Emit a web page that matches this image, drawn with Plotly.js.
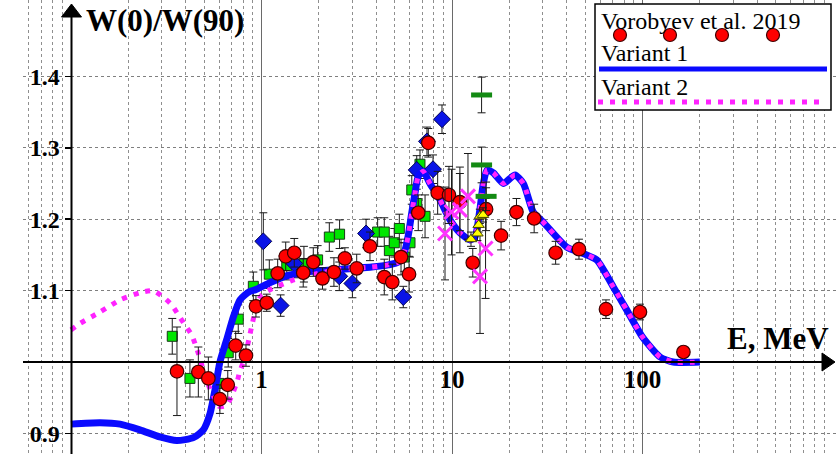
<!DOCTYPE html>
<html><head><meta charset="utf-8">
<script src="https://cdn.plot.ly/plotly-3.0.1.min.js"></script>
<style>html,body{margin:0;padding:0;background:#fff;}#chart{width:838px;height:454px;}</style>
</head><body><div id="chart"></div>
<script>
// ---- data ----
const redE   = [0.36,0.466,0.526,0.605,0.665,0.732,0.829,0.935,1.065,1.216,1.34,1.486,1.656,1.87,2.09,2.40,2.74,3.16,3.71,4.41,4.86,5.40,5.95,6.65,7.51,8.41,9.64,11.0,12.85,15.1,18.1,21.8,27.0,35.0,46.4,64.3,97,164];
const redW   = [0.987,0.986,0.977,0.948,0.968,1.023,1.009,1.078,1.083,1.124,1.148,1.153,1.125,1.14,1.117,1.126,1.145,1.131,1.162,1.119,1.112,1.147,1.123,1.209,1.307,1.237,1.234,1.224,1.139,1.214,1.177,1.21,1.201,1.153,1.158,1.074,1.070,1.014];
const redErr = [0.062,0.035,0.03,0.02,0.02,0.02,0.015,0.015,0.012,0.02,0.02,0.02,0.02,0.02,0.015,0.02,0.015,0.02,0.02,0.025,0.025,0.025,0.025,0.025,0.02,0.03,0.04,0.04,0.02,0.03,0.02,0.019,0.02,0.016,0.014,0.013,0.011,0.007];

const grnE   = [0.340,0.421,0.598,0.669,0.755,0.906,1.099,1.357,1.67,1.97,2.27,2.57,4.07,4.41,4.69,4.98,5.29,5.62,6.02,6.15,6.53,6.79,7.22];
const grnW   = [1.036,0.977,0.970,1.013,1.060,1.106,1.123,1.135,1.137,1.143,1.175,1.179,1.182,1.182,1.156,1.167,1.187,1.147,1.167,1.241,1.222,1.277,1.204];
const grnErr = [0.025,0.026,0.02,0.02,0.02,0.02,0.02,0.02,0.025,0.02,0.02,0.02,0.02,0.02,0.02,0.02,0.02,0.02,0.02,0.02,0.02,0.02,0.03];

const bluE   = [1.022,1.26,1.486,2.56,3.0,3.54,5.55,6.53,7.39,7.95,8.86];
const bluW   = [1.169,1.079,1.138,1.12,1.11,1.18,1.091,1.269,1.309,1.27,1.34];
const bluErr = [0.04,0.015,0.02,0.02,0.02,0.02,0.015,0.02,0.02,0.02,0.02];

const magE   = [9.19,9.94,11.0,12.13,14.03,15.0];
const magW   = [1.18,1.21,1.213,1.232,1.12,1.159];
const magErr = [0.065,0.06,0.06,0.06,0.08,0.07];

const yelE   = [12.58,13.6,13.8,14.0,14.55];
const yelW   = [1.172,1.18,1.192,1.204,1.206];
const yelErr = [0.01,0.01,0.01,0.01,0.01];

const dashE   = [14.3,14.3,15.1];
const dashW   = [1.374,1.276,1.232];
const dashErr = [0.025,0.025,0.02];

const var1E = [0.1,0.142,0.181,0.230,0.293,0.359,0.439,0.495,0.537,0.570,0.605,0.656,0.711,0.771,0.819,0.870,0.925,1.086,1.328,1.626,1.987,2.43,2.975,3.79,4.63,5.23,5.67,5.90,6.14,6.39,6.65,7.07,7.66,8.65,9.76,11.0,12.43,13.2,14.0,14.6,15.27,16.48,18.6,21.4,23.7,26.7,30.1,40.0,48.9,57.5,70.3,82.6,100,123.6,145,200];
const var1W = [0.913,0.915,0.913,0.905,0.895,0.890,0.894,0.905,0.928,0.961,1.0,1.031,1.063,1.087,1.094,1.099,1.101,1.110,1.120,1.125,1.128,1.129,1.131,1.133,1.136,1.140,1.157,1.178,1.208,1.236,1.260,1.267,1.25,1.227,1.199,1.181,1.171,1.175,1.213,1.25,1.269,1.265,1.25,1.262,1.25,1.21,1.196,1.161,1.152,1.143,1.105,1.073,1.035,1.007,1.0,1.0];

const var2E = [0.1,0.1115,0.142,0.181,0.230,0.270,0.305,0.338,0.366,0.396,0.430,0.466,0.495,0.526,0.563,0.598,0.635,0.669,0.711,0.746,0.771,0.812,0.842,0.870,0.899,0.944,1.002,1.122,1.266,1.44,1.656,1.893,2.154,2.43,2.975,3.79,4.63,5.23,5.67,5.90,6.14,6.39,6.65,7.07,7.66,8.65,9.76,11.0,12.43,13.2,14.0,14.6,15.27,16.48,18.6,21.4,23.7,26.7,30.1,40.0,48.9,57.5,70.3,82.6,100,123.6,145,200];
const var2W = [1.045,1.054,1.070,1.087,1.097,1.100,1.091,1.080,1.066,1.052,1.038,1.012,0.989,0.968,0.951,0.938,0.938,0.943,0.958,0.973,0.988,1.003,1.021,1.039,1.056,1.081,1.094,1.102,1.108,1.114,1.119,1.123,1.126,1.129,1.131,1.133,1.136,1.140,1.157,1.178,1.208,1.236,1.260,1.267,1.25,1.227,1.199,1.181,1.171,1.175,1.213,1.25,1.269,1.265,1.25,1.262,1.25,1.21,1.196,1.161,1.152,1.143,1.105,1.073,1.035,1.007,1.0,1.0];

const xLabelVals = [1,10,100];
const xLabelText = ['1','10','100'];
const xMinorVals = [0.06,0.07,0.08,0.09,0.2,0.3,0.4,0.5,0.6,0.7,0.8,0.9,2,3,4,5,6,7,8,9,20,30,40,50,60,70,80,90,200,300,400,500,600,700,800,900];
const yLabelVals = [0.9,1.1,1.2,1.3,1.4];
const yLabelText = ['0.9','1.1','1.2','1.3','1.4'];
const legendText = ['Vorobyev et al. 2019','Variant 1','Variant 2'];

// ---- geometry ----
const W = 838, H = 454, L = 23;
const PW = W - L;
const px = x => (x - L) / PW;
const py = y => (H - y) / H;
const SERIF = 'Liberation Serif';

function errY(arr){ return {type:'data', array:arr, visible:true, color:'#1a1a1a', thickness:1, width:4}; }

const traces = [
  {x:grnE, y:grnW, error_y:errY(grnErr), mode:'markers', type:'scatter',
   marker:{symbol:'square', size:10, color:'#00e600', line:{color:'#1a3a1a', width:1}}},
  {x:bluE, y:bluW, error_y:errY(bluErr), mode:'markers', type:'scatter',
   marker:{symbol:'diamond', size:13, color:'#0a14e6', line:{color:'#000050', width:1}}},
  {x:var1E, y:var1W, mode:'lines', type:'scatter', name:legendText[1],
   line:{color:'#0a0aff', width:7, shape:'spline', smoothing:0.6}},
  {x:var2E, y:var2W, mode:'lines', type:'scatter', name:legendText[2],
   line:{color:'#ff22ff', width:5, dash:'5px,7px', shape:'spline', smoothing:0.6}},
  {x:redE, y:redW, error_y:errY(redErr), mode:'markers', type:'scatter', name:legendText[0],
   marker:{symbol:'circle', size:13.5, color:'#ff0000', line:{color:'#400000', width:1.2}}},
  {x:magE, y:magW, error_y:errY(magErr), mode:'markers', type:'scatter',
   marker:{symbol:'x-thin-open', size:14, color:'#ff33ff', line:{color:'#ff33ff', width:3}}},
  {x:yelE, y:yelW, error_y:errY(yelErr), mode:'markers', type:'scatter',
   marker:{symbol:'triangle-up', size:10, color:'#ffff00', line:{color:'#444400', width:1}}},
  {x:dashE, y:dashW, error_y:errY(dashErr), mode:'markers', type:'scatter',
   marker:{symbol:'line-ew-open', size:15, color:'#138a13', line:{color:'#138a13', width:5}}}
];

const shapes = [
  {type:'line', xref:'paper', yref:'paper', x0:px(71.5), x1:px(71.5), y0:py(454), y1:py(15), line:{color:'#000', width:2}},
  {type:'line', xref:'paper', yref:'paper', x0:px(23), x1:px(825), y0:py(362), y1:py(362), line:{color:'#000', width:2}},
  {type:'path', xref:'paper', yref:'paper', path:`M ${px(61.5)} ${py(17)} L ${px(71.5)} ${py(4)} L ${px(81.5)} ${py(17)} Z`, fillcolor:'#000', line:{color:'#000', width:1}},
  {type:'path', xref:'paper', yref:'paper', path:`M ${px(822)} ${py(353)} L ${px(835)} ${py(362)} L ${px(822)} ${py(371)} Z`, fillcolor:'#000', line:{color:'#000', width:1}},
  {type:'rect', xref:'paper', yref:'paper', x0:px(595), x1:px(831), y0:py(4), y1:py(110), fillcolor:'#fff', line:{color:'#000', width:1.5}, layer:'above'},
  {type:'line', xref:'paper', yref:'paper', x0:px(599), x1:px(827), y0:py(69), y1:py(69), line:{color:'#0a0aff', width:5}, layer:'above'},
  {type:'line', xref:'paper', yref:'paper', x0:px(598), x1:px(824), y0:py(102), y1:py(102), line:{color:'#ff22ff', width:5, dash:'5px,7px'}, layer:'above'}
];
[620,670,722,773].forEach(cx => {
  shapes.push({type:'circle', xref:'paper', yref:'paper', x0:px(cx-6.5), x1:px(cx+6.5), y0:py(35-6.5), y1:py(35+6.5),
    fillcolor:'#ff0000', line:{color:'#400000', width:1.2}, layer:'above'});
});

const annotations = [
  {xref:'paper', yref:'paper', x:px(84), y:py(20), xanchor:'left', yanchor:'middle', showarrow:false,
   text:'<b>W(0)/W(90)</b>', font:{family:SERIF, size:31, color:'#000'}},
  {xref:'paper', yref:'paper', x:px(831), y:py(339), xanchor:'right', yanchor:'middle', showarrow:false,
   text:'<b>E, MeV</b>', font:{family:SERIF, size:31, color:'#000'}},
  {xref:'paper', yref:'paper', x:px(599), y:py(21), xanchor:'left', yanchor:'middle', showarrow:false,
   text:legendText[0], font:{family:SERIF, size:24, color:'#000'}},
  {xref:'paper', yref:'paper', x:px(599), y:py(53), xanchor:'left', yanchor:'middle', showarrow:false,
   text:legendText[1], font:{family:SERIF, size:24, color:'#000'}},
  {xref:'paper', yref:'paper', x:px(599), y:py(87), xanchor:'left', yanchor:'middle', showarrow:false,
   text:legendText[2], font:{family:SERIF, size:24, color:'#000'}}
];

const layout = {
  width:W, height:H, margin:{l:L, r:0, t:0, b:0}, paper_bgcolor:'#fff', plot_bgcolor:'#fff',
  font:{family:SERIF, color:'#000'},
  showlegend:false,
  xaxis:{type:'log', range:[(L-71)/190.5-1, (W-71)/190.5-1], anchor:'free', position:(H-362)/H,
    tickmode:'array', tickvals:xLabelVals, ticktext:xLabelText, ticks:'', showline:false, zeroline:false,
    showgrid:true, gridcolor:'#6a6a6a', gridwidth:1,
    tickfont:{family:SERIF, size:25, color:'#000', weight:700},
    minor:{tickmode:'array', tickvals:xMinorVals, ticks:'', showgrid:true, gridcolor:'#8f8f8f', griddash:'dot', gridwidth:1},
    fixedrange:true},
  yaxis:{range:[1-(H-362)/714, 1+362/714], anchor:'free', position:(71.5-L)/PW,
    tickmode:'array', tickvals:yLabelVals, ticktext:yLabelText, ticks:'outside', ticklen:7, tickwidth:1.5, tickcolor:'#000',
    showline:false, zeroline:false, showgrid:true, gridcolor:'#7f7f7f', griddash:'dot', gridwidth:1,
    tickfont:{family:SERIF, size:24, color:'#000', weight:700}, fixedrange:true},
  shapes:shapes, annotations:annotations
};

Plotly.newPlot('chart', traces, layout, {staticPlot:true, displayModeBar:false});
</script></body></html>
